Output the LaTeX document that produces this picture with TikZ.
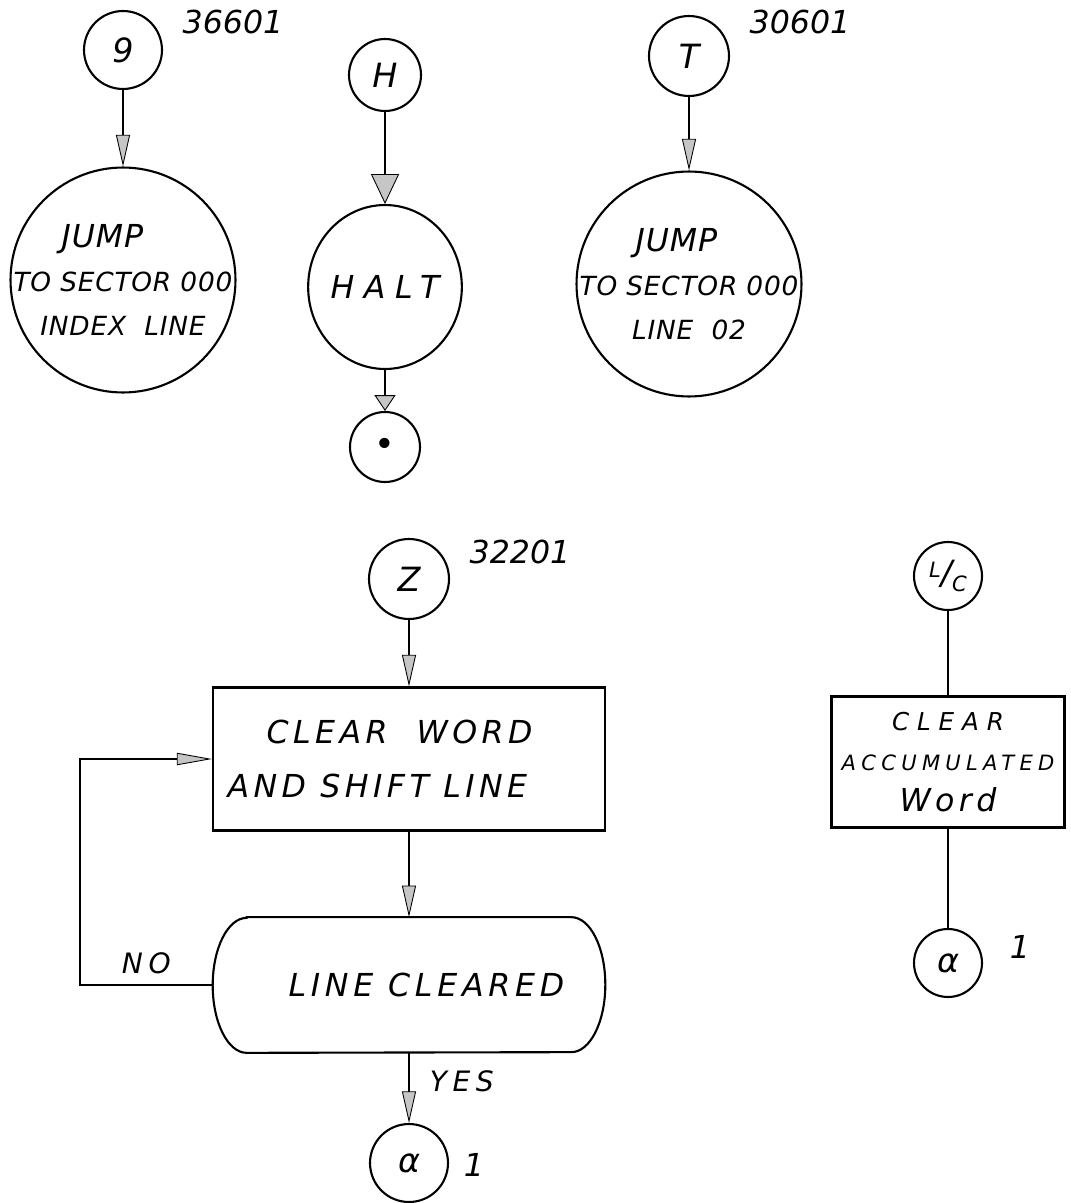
\documentclass[tikz,border=0pt]{standalone}
\usepackage{fontspec}
\setmainfont{DejaVu Sans}
\usetikzlibrary{arrows.meta,positioning,shapes.geometric}
\tikzset{
  chartpicture/.style={x=0.02cm, y=-0.02cm},
  chartconn/.style={circle, draw, line width=1.2pt, inner sep=0pt, minimum size=1.56cm, font=\fontsize{19}{22}\selectfont\itshape},
  chartjump/.style={circle, draw, line width=1.2pt, inner sep=-0.5cm, minimum size=4.5cm, align=center, font=\fontsize{15}{25}\selectfont\itshape\addfontfeature{LetterSpace=3}},
  chartoval/.style={ellipse, draw, line width=1.2pt, inner sep=0pt, minimum width=2.76cm, minimum height=3.28cm, font=\fontsize{18}{22}\selectfont\itshape\addfontfeature{LetterSpace=30}},
  chartbox/.style={rectangle, draw, line width=1.2pt, inner sep=0pt, align=center, font=\fontsize{18}{31}\selectfont\itshape\addfontfeature{LetterSpace=14}},
  chartterm/.style={rectangle, inner sep=0pt, minimum width=7.84cm, minimum height=2.7cm, font=\fontsize{18}{22}\selectfont\itshape\addfontfeature{LetterSpace=15}},
  chartends/.style={line width=1.2pt, x radius=0.68cm, y radius=1.35cm},
  chartnum/.style={inner sep=0pt, font=\fontsize{18}{20}\selectfont\itshape},
  chartnote/.style={inner sep=0pt, font=\fontsize{16}{18}\selectfont\itshape\addfontfeature{LetterSpace=20}},
  chartline/.style={line width=0.9pt},
  chartarrow/.style={chartline, -{Triangle[length=18pt, width=8pt, fill=gray!45, line width=0.5pt]}},
  chartwide/.style={chartline, -{Triangle[length=17pt, width=16pt, fill=gray!45, line width=0.5pt]}},
  chartshort/.style={chartline, -{Triangle[length=9pt, width=12pt, fill=gray!45, line width=0.5pt]}},
  chartloop/.style={chartline, -{Triangle[length=20pt, width=7pt, fill=gray!45, line width=0.5pt]}}
}

\begin{document}
\begin{tikzpicture}[chartpicture]
\useasboundingbox (0,0) rectangle (1071,1203);
% top row
\node[chartconn] (nine) at (123,50) {9};
\node[chartnum] (ninenum) at (233,22) {36601};
\node[chartjump] (jumpidx) at (123,280) {{\fontsize{18}{25}\selectfont JUMP\hspace*{1.3em}}\\TO SECTOR 000\\INDEX\ \ LINE};
\node[chartconn, minimum size=1.44cm] (hlt) at (385,75) {H};
\node[chartoval] (halt) at (385,287) {HALT};
\node[chartconn, minimum size=1.4cm, font=\fontsize{20}{20}\selectfont] (stop) at (385,447) {\textbullet};
\node[chartconn, minimum size=1.6cm] (tee) at (689,56) {T};
\node[chartnum] (teenum) at (800,22) {30601};
\node[chartjump] (jumpline) at (689,284) {{\fontsize{18}{25}\selectfont JUMP\hspace*{0.8em}}\\TO SECTOR 000\\LINE\ \ 02};
% clear word loop
\node[chartconn, minimum size=1.6cm] (zed) at (409,579) {Z};
\node[chartnum] (zednum) at (520,552) {32201};
\node[chartbox, minimum width=7.84cm, minimum height=2.86cm] (clearword) at (409,759) {CLEAR\ \ WORD\hspace*{0.6em}\\AND SHIFT LINE\hspace*{2em}};
\node[chartterm] (cleared) at (409,985) {\hspace*{1.1em}LINE CLEARED};
\draw[chartends] ([xshift=0.68cm]cleared.north west) -- ([xshift=-0.68cm]cleared.north east)
  arc[start angle=90, end angle=-90] -- ([xshift=0.68cm]cleared.south west)
  arc[start angle=270, end angle=90] -- cycle;
\node[chartconn] (alpha) at (409,1163) {α};
\node[chartnum] (alphanum) at (474,1165) {1};
\coordinate (loopcorner) at (80,985);
% clear accumulated word
\node[chartconn, minimum size=1.36cm] (lc) at (948,576) {\raisebox{4pt}{\fontsize{12}{12}\selectfont L}/\raisebox{-4pt}{\fontsize{12}{12}\selectfont C}};
\node[chartbox, minimum width=4.66cm, minimum height=2.62cm, font=\fontsize{12}{23}\selectfont\itshape\addfontfeature{LetterSpace=25}] (accword) at (948,762) {{\fontsize{14}{23}\selectfont\addfontfeature{LetterSpace=32}CLEAR}\\ACCUMULATED\\{\fontsize{18}{23}\selectfont\addfontfeature{LetterSpace=14}Word}};
\node[chartconn, minimum size=1.36cm] (alphb) at (948,963) {α};
\node[chartnum] (alphbnum) at (1020,947) {1};

\draw[chartarrow] (nine) -- (jumpidx);
\draw[chartwide] (hlt) -- (halt);
\draw[chartshort] (halt) -- (stop);
\draw[chartarrow] (tee) -- (jumpline);
\draw[chartarrow] (zed) -- (clearword);
\draw[chartarrow] (clearword) -- (cleared);
\draw[chartarrow] (cleared) -- node[chartnote, pos=0.4, right=0.4cm] {YES} (alpha);
\draw[chartloop] (cleared.west) -- node[chartnote, above=0.2cm] {NO} (loopcorner) |- (clearword.west);
\draw[chartline] (lc) -- (accword);
\draw[chartline] (accword) -- (alphb);
\end{tikzpicture}
\end{document}
